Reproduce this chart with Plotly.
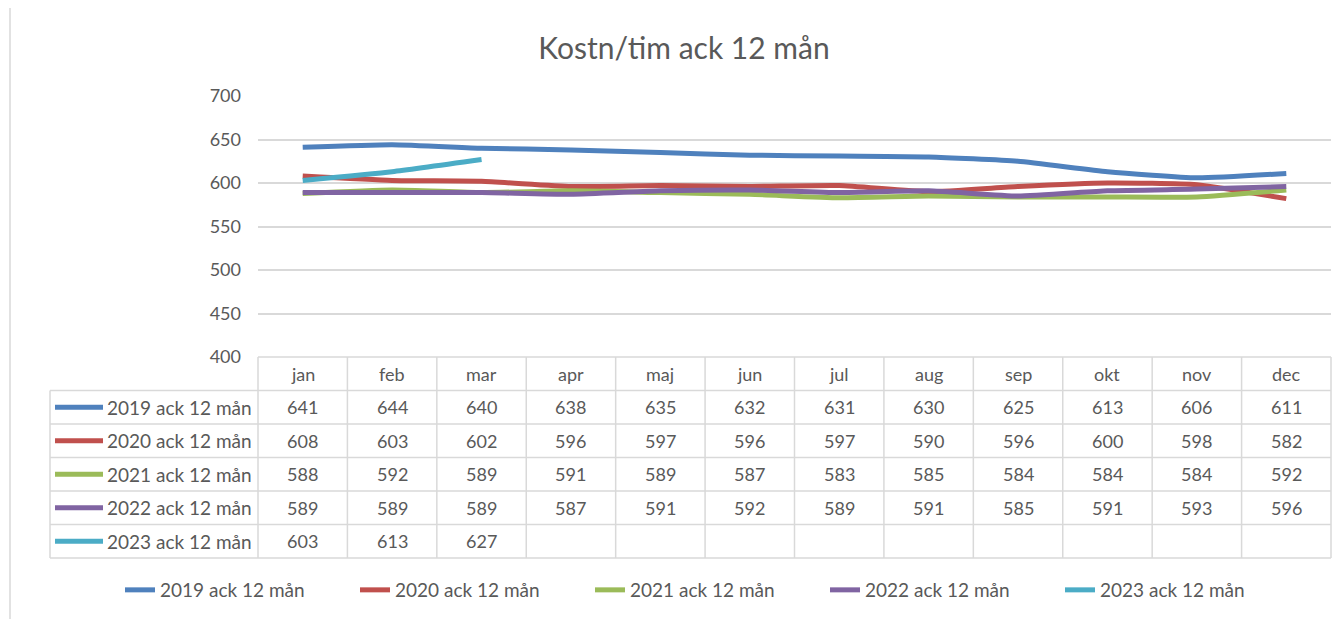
import plotly.graph_objects as go

months = ["jan", "feb", "mar", "apr", "maj", "jun", "jul", "aug", "sep", "okt", "nov", "dec"]
series_names = ["2019 ack 12 mån", "2020 ack 12 mån", "2021 ack 12 mån", "2022 ack 12 mån", "2023 ack 12 mån"]
v2019 = [641, 644, 640, 638, 635, 632, 631, 630, 625, 613, 606, 611]
v2020 = [608, 603, 602, 596, 597, 596, 597, 590, 596, 600, 598, 582]
v2021 = [588, 592, 589, 591, 589, 587, 583, 585, 584, 584, 584, 592]
v2022 = [589, 589, 589, 587, 591, 592, 589, 591, 585, 591, 593, 596]
v2023 = [603, 613, 627]
series_values = [v2019, v2020, v2021, v2022, v2023]
colors = ["#4F81BD", "#C0504D", "#9BBB59", "#8064A2", "#4BACC6"]
title_text = "Kostn/tim ack 12 mån"

OFF = 8  # page body margin
W, H = 1340 - OFF, 619 - OFF
# layout positions in screen pixels
L, R, T, B = 258, 1331, 96, 558
FONT = "Lato, Calibri, sans-serif"
TXT = "#595959"
GRID = "#D9D9D9"

def px_x(p):
    return (p - L) / (R - L)

def px_y(p):
    return (B - p) / (B - T)

table_top = 357
row_h = (B - table_top) / 6
ydom0 = px_y(table_top)

fig = go.Figure()
for name, vals, c in zip(series_names, series_values, colors):
    fig.add_trace(go.Scatter(
        x=months[:len(vals)], y=vals, name=name, mode="lines",
        line=dict(color=c, width=5, shape="spline", smoothing=0.5),
    ))

shapes = []
annotations = []
# outer chart border
shapes.append(dict(type="rect", xref="paper", yref="paper",
                   x0=px_x(10), x1=px_x(1360), y0=px_y(640), y1=px_y(7),
                   line=dict(color=GRID, width=1.5), fillcolor="rgba(0,0,0,0)", layer="below"))

n = len(months)
label_left = 50
for k in range(7):
    yy = table_top + k * row_h
    x0 = L if k == 0 else label_left
    shapes.append(dict(type="line", xref="paper", yref="paper",
                       x0=px_x(x0), x1=1, y0=px_y(yy), y1=px_y(yy),
                       line=dict(color=GRID, width=1.5)))
for i in range(n + 1):
    shapes.append(dict(type="line", xref="paper", yref="paper",
                       x0=i / n, x1=i / n, y0=px_y(table_top), y1=0,
                       line=dict(color=GRID, width=1.5)))
shapes.append(dict(type="line", xref="paper", yref="paper",
                   x0=px_x(label_left), x1=px_x(label_left),
                   y0=px_y(table_top + row_h), y1=0,
                   line=dict(color=GRID, width=1.5)))

for m in months:
    annotations.append(dict(x=m, xref="x", y=px_y(table_top + row_h / 2), yref="paper",
                            text=m, showarrow=False, xanchor="center", yanchor="middle",
                            font=dict(family=FONT, size=18, color=TXT)))
for r, (name, vals, c) in enumerate(zip(series_names, series_values, colors)):
    yc = table_top + (r + 1.5) * row_h
    shapes.append(dict(type="line", xref="paper", yref="paper",
                       x0=px_x(55), x1=px_x(103), y0=px_y(yc), y1=px_y(yc),
                       line=dict(color=c, width=5)))
    annotations.append(dict(x=px_x(105), xref="paper", y=px_y(yc), yref="paper",
                            text=name, showarrow=False, xanchor="left", yanchor="middle",
                            font=dict(family=FONT, size=19, color=TXT)))
    for m, v in zip(months, vals):
        annotations.append(dict(x=m, xref="x", y=px_y(yc), yref="paper",
                                text=str(v), showarrow=False, xanchor="center", yanchor="middle",
                                font=dict(family=FONT, size=18, color=TXT)))

fig.update_layout(
    width=W, height=H,
    margin=dict(l=L - OFF, r=W - (R - OFF), t=T - OFF, b=H - (B - OFF), autoexpand=False),
    paper_bgcolor="white", plot_bgcolor="white",
    title=dict(text=title_text, x=(684 - OFF) / W, xref="container", xanchor="center",
               y=1 - (48 - OFF) / H, yref="container", yanchor="middle",
               font=dict(family=FONT, size=30, color=TXT)),
    xaxis=dict(type="category", categoryarray=months, range=[-0.5, n - 0.5],
               showticklabels=False, showgrid=False, zeroline=False, showline=False, ticks=""),
    yaxis=dict(domain=[ydom0, 1], range=[400, 700], dtick=50, showgrid=True, gridcolor=GRID,
               gridwidth=1.5, zeroline=False, showline=False, ticks="", ticklabelstandoff=16,
               tickfont=dict(family=FONT, size=18, color=TXT)),
    showlegend=True,
    legend=dict(orientation="h", xref="paper", yref="paper",
                x=px_x(120), xanchor="left", y=px_y(590), yanchor="middle",
                entrywidth=190, entrywidthmode="pixels", traceorder="normal",
                font=dict(family=FONT, size=19, color=TXT), bgcolor="rgba(0,0,0,0)"),
    shapes=shapes, annotations=annotations,
)

fig.write_html("out.html")
